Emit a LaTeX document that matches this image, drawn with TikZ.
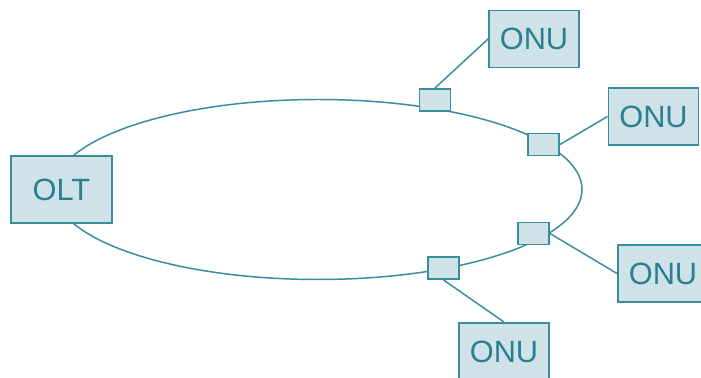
\documentclass[tikz,border=0pt]{standalone}
\usepackage{fontspec}
\setmainfont{Liberation Sans}
\usepackage{tikz}
\usetikzlibrary{backgrounds}
\usetikzlibrary{positioning}
\usepackage{xcolor}
\definecolor{ponline}{HTML}{3A8C9F}
\definecolor{ponfill}{HTML}{CFE2E8}
\definecolor{pontext}{HTML}{2A7F92}

\begin{document}
\begin{tikzpicture}[
    unit/.style={rectangle, draw=ponline, fill=ponfill, line width=1.1pt, inner sep=0pt,
      text=pontext, font=\fontsize{17.5}{21}\selectfont},
    onu/.style={unit, minimum width=1.8cm, minimum height=1.14cm},
    tap/.style={rectangle, draw=ponline, fill=ponfill, line width=1.1pt, inner sep=0pt,
      minimum width=0.62cm, minimum height=0.44cm},
    fibre/.style={draw=ponline, line width=0.85pt}]
    \useasboundingbox (0cm, 0cm) rectangle (14.02cm, 7.56cm);

    \node[unit, minimum width=2.02cm, minimum height=1.34cm] (olt) at (1.23cm, 3.77cm) {OLT};

    \node[tap] (tap1) at (8.70cm, 5.56cm) {};
    \node[tap] (tap2) at (10.87cm, 4.67cm) {};
    \node[tap] (tap3) at (10.67cm, 2.89cm) {};
    \node[tap] (tap4) at (8.87cm, 2.20cm) {};

    \node[onu] (onu1) at (10.68cm, 6.78cm) {ONU};
    \node[onu] (onu2) at (13.07cm, 5.23cm) {ONU};
    \node[onu] (onu3) at (13.26cm, 2.09cm) {ONU};
    \node[onu] (onu4) at (10.08cm, 0.53cm) {ONU};

    % ring behind the boxes
    \begin{scope}[on background layer]
      \coordinate (ringc) at (6.36cm, 3.77cm);
      \draw[fibre] (ringc) ellipse (5.28cm and 1.80cm);
    \end{scope}

    \draw[fibre] (tap1.north) -- (onu1.west);
    \draw[fibre] (tap2.east) -- (onu2.west);
    \draw[fibre] (tap3.east) -- (onu3.west);
    \draw[fibre] (tap4.south) -- (onu4.north);
  \end{tikzpicture}
\end{document}
